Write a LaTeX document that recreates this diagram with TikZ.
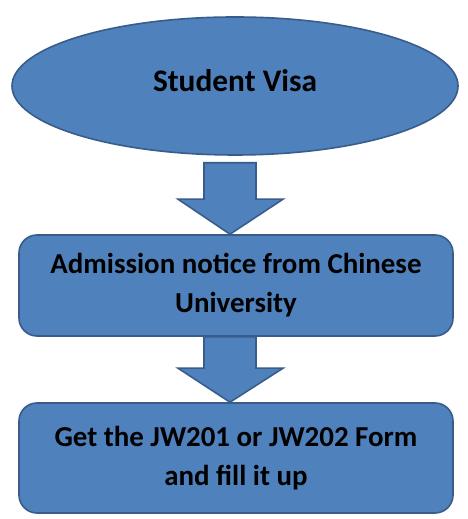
\documentclass[tikz,border=0pt]{standalone}
\usepackage{fontspec}
\setmainfont{Carlito}
\usetikzlibrary{shapes.geometric,calc}

\definecolor{stepfill}{HTML}{4F81BD}
\definecolor{stepline}{HTML}{385D8A}

\begin{document}
\begin{tikzpicture}[x=1bp, y=1bp,
    stage/.style={draw=stepline, fill=stepfill, line width=1.6bp,
      font=\fontsize{29}{39}\selectfont\bfseries, align=center, inner sep=0pt},
    goal/.style={stage, ellipse, minimum width=446bp, minimum height=138bp,
      font=\fontsize{31.5}{39}\selectfont\bfseries},
    card/.style={stage, rectangle, rounded corners=18bp, minimum width=434bp},
    downarrow/.style={draw=stepline, fill=stepfill, line width=1.6bp, line join=miter}]

    % 画面の大きさ 468 x 519
    \useasboundingbox (0,0) rectangle (468,519);
    \fill[white] (0,0) rectangle (468,519);

    % 楕円と二つの箱
    \node[goal, text depth=12bp] (visa) at (235,433) {Student Visa};
    \node[card, minimum height=101bp] (admit) at (236,233.5)
        {Admission notice from Chinese\\University};
    \node[card, minimum height=110bp] (form) at (236,61)
        {Get the JW201 or JW202 Form\\and fill it up};

    % 太い下向き矢印 visa -> admit
    \draw[downarrow] let \p1=(visa.south), \p2=(admit.north) in
        (\x2-32bp,\y1-7bp) -- (\x2+20bp,\y1-7bp) -- (\x2+20bp,\y2+35bp)
        -- (\x2+47bp,\y2+35bp) -- (\x2-6bp,\y2) -- (\x2-58bp,\y2+35bp)
        -- (\x2-32bp,\y2+35bp) -- cycle;

    % 太い下向き矢印 admit -> form
    \draw[downarrow] let \p1=(admit.south), \p2=(form.north) in
        (\x2-32bp,\y1) -- (\x2+20bp,\y1) -- (\x2+20bp,\y2+34bp)
        -- (\x2+47bp,\y2+34bp) -- (\x2-6bp,\y2) -- (\x2-58bp,\y2+34bp)
        -- (\x2-32bp,\y2+34bp) -- cycle;

\end{tikzpicture}
\end{document}
